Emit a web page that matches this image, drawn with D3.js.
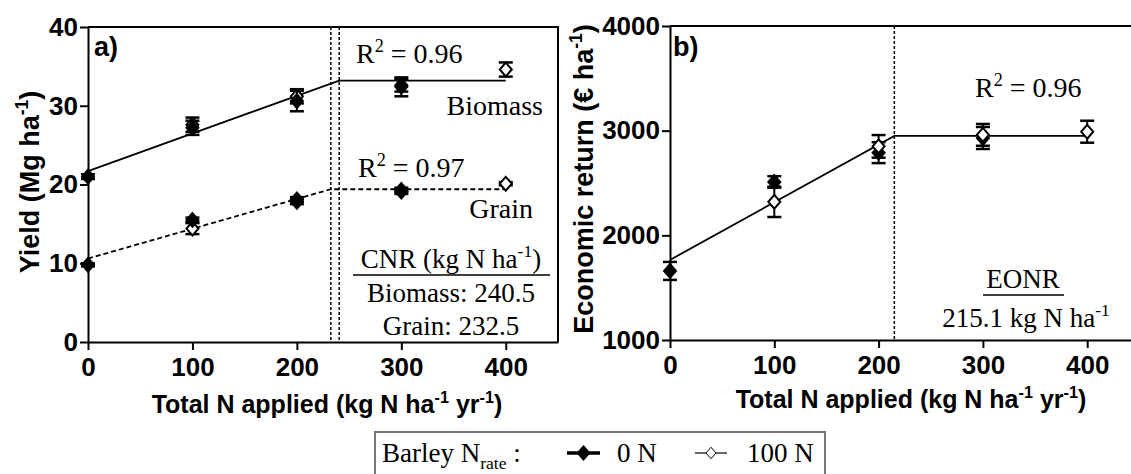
<!DOCTYPE html>
<html><head><meta charset="utf-8">
<script src="https://cdn.jsdelivr.net/npm/d3@7"></script>
<style>
body{margin:0;background:#fff;}
svg{display:block;}
.axis .tick text{font-family:"Liberation Sans",Arial,sans-serif;font-weight:bold;font-size:26px;fill:#000;}
.axis path,.axis line{stroke:#000;stroke-width:2;}
.serif{font-family:"Liberation Serif","Times New Roman",serif;fill:#000;}
.sans{font-family:"Liberation Sans",Arial,sans-serif;font-weight:bold;fill:#000;}
</style></head><body>
<script>
// Total N applied (kg N ha-1 yr-1) for the two barley N-rate treatments
const nRate0 = [0, 100, 200, 300];
const nRate100 = [100, 200, 300, 400];

// Panel a: yield (Mg ha-1)
const biomass0 = [21.0, 27.2, 30.6, 32.4];
const biomassErr0 = [0.3, 0.9, 1.3, 1.2];
const biomass100 = [27.6, 31.2, 32.6, 34.6];
const biomassErr100 = [0.9, 0.9, 0.8, 0.9];
const grain0 = [9.8, 15.5, 17.8, 19.1];
const grainErr0 = [0.2, 0.3, 0.3, 0.3];
const grain100 = [14.4, 18.1, 19.3, 20.1];
const grainErr100 = [0.7, 0.3, 0.3, 0.2];

// Linear-plateau fits: [N, value] vertices
const biomassFit = [[0, 21.7], [240.5, 33.2], [400, 33.2]];
const grainFit = [[0, 10.6], [232.5, 19.4], [400, 19.4]];
const cnrBiomass = 240.5, cnrGrain = 232.5;

// Panel b: economic return (EUR ha-1)
const return0 = [1660, 2510, 2790, 2930];
const returnErr0 = [86, 55, 100, 105];
const return100 = [2320, 2850, 2960, 2990];
const returnErr100 = [145, 108, 104, 105];
const returnFit = [[0, 1765], [215.1, 2950], [400, 2950]];
const eonr = 215.1;

// Tick labels
const xTicks = [0, 100, 200, 300, 400];
const yTicksA = [0, 10, 20, 30, 40];
const yTicksB = [1000, 2000, 3000, 4000];

const W = 1131, H = 474;
const svg = d3.select("body").append("svg").attr("width", W).attr("height", H);

const xa = d3.scaleLinear().domain([0, 450]).range([88, 558]);
const ya = d3.scaleLinear().domain([0, 40]).range([342, 27]);
const xb = d3.scaleLinear().domain([0, 442]).range([670, 1131]);
const yb = d3.scaleLinear().domain([1000, 4000]).range([340, 26]);

const diamond = s => `M0,${-s * 1.15}L${s},0L0,${s * 1.15}L${-s},0Z`;

// text with super/subscript parts
function rich(sel, parts, size) {
  let shift = 0;
  parts.forEach(p => {
    const ts = sel.append("tspan").text(p.t);
    let o = 0;
    if (p.sup) { o = -size * 0.4; ts.attr("font-size", size * 0.65); }
    else if (p.sub) { o = size * 0.25; ts.attr("font-size", size * 0.65); }
    if (o - shift !== 0) ts.attr("dy", o - shift);
    shift = o;
  });
  return sel;
}

function axes(x, y, yTicks) {
  svg.append("g").attr("class", "axis")
    .attr("transform", `translate(0,${y.range()[0]})`)
    .call(d3.axisBottom(x).tickValues(xTicks).tickFormat(d3.format("d")).tickSize(8).tickPadding(8).tickSizeOuter(0));
  svg.append("g").attr("class", "axis")
    .attr("transform", `translate(${x.range()[0]},0)`)
    .call(d3.axisLeft(y).tickValues(yTicks).tickFormat(d3.format("d")).tickSize(8).tickPadding(2).tickSizeOuter(0));
}

function points(x, y, ns, vals, errs, filled) {
  const g = svg.append("g");
  ns.forEach((n, i) => {
    const cx = x(n), v = vals[i], e = errs[i];
    const y1 = y(v + e), y2 = y(v - e);
    g.append("line").attr("x1", cx).attr("x2", cx).attr("y1", y1).attr("y2", y2)
      .attr("stroke", "#000").attr("stroke-width", 2);
    [y1, y2].forEach(yy => g.append("line").attr("x1", cx - 7).attr("x2", cx + 7)
      .attr("y1", yy).attr("y2", yy).attr("stroke", "#000").attr("stroke-width", 2.5));
    g.append("path").attr("d", diamond(6)).attr("transform", `translate(${cx},${y(v)})`)
      .attr("fill", filled ? "#000" : "#fff").attr("stroke", "#000").attr("stroke-width", 2);
  });
}

function fitLine(x, y, pts, dash) {
  svg.append("path").attr("d", d3.line().x(d => x(d[0])).y(d => y(d[1]))(pts))
    .attr("fill", "none").attr("stroke", "#000").attr("stroke-width", 1.8)
    .attr("stroke-dasharray", dash || null);
}

function vRule(x, y, n) {
  svg.append("line").attr("x1", x(n)).attr("x2", x(n))
    .attr("y1", y.range()[1]).attr("y2", y.range()[0])
    .attr("stroke", "#000").attr("stroke-width", 1.5).attr("stroke-dasharray", "3,2");
}

// ---------- panel a ----------
axes(xa, ya, yTicksA);
svg.append("path").attr("d", `M${xa.range()[0]},${ya(40)}H${xa.range()[1]}V${ya(0)}`)
  .attr("fill", "none").attr("stroke", "#000").attr("stroke-width", 2);
vRule(xa, ya, cnrGrain);
vRule(xa, ya, cnrBiomass);
fitLine(xa, ya, biomassFit);
fitLine(xa, ya, grainFit, "5,3");
points(xa, ya, nRate100, biomass100, biomassErr100, false);
points(xa, ya, nRate0, biomass0, biomassErr0, true);
points(xa, ya, nRate100, grain100, grainErr100, false);
points(xa, ya, nRate0, grain0, grainErr0, true);

svg.append("text").attr("class", "sans").attr("x", 94).attr("y", 56).attr("font-size", 27).text("a)");
rich(svg.append("text").attr("class", "serif").attr("x", 356).attr("y", 63).attr("font-size", 28),
  [{t: "R"}, {t: "2", sup: true}, {t: " = 0.96"}], 28);
svg.append("text").attr("class", "serif").attr("x", 543).attr("y", 115).attr("text-anchor", "end").attr("font-size", 28).text("Biomass");
rich(svg.append("text").attr("class", "serif").attr("x", 358).attr("y", 177).attr("font-size", 28),
  [{t: "R"}, {t: "2", sup: true}, {t: " = 0.97"}], 28);
svg.append("text").attr("class", "serif").attr("x", 533).attr("y", 218).attr("text-anchor", "end").attr("font-size", 28).text("Grain");
rich(svg.append("text").attr("class", "serif").attr("x", 451).attr("y", 268).attr("text-anchor", "middle").attr("font-size", 27),
  [{t: "CNR (kg N ha"}, {t: "-1", sup: true}, {t: ")"}], 27);
svg.append("line").attr("x1", 353).attr("x2", 550).attr("y1", 275).attr("y2", 275).attr("stroke", "#000").attr("stroke-width", 1.5);
svg.append("text").attr("class", "serif").attr("x", 451).attr("y", 302).attr("text-anchor", "middle").attr("font-size", 27).text("Biomass: " + cnrBiomass.toFixed(1));
svg.append("text").attr("class", "serif").attr("x", 451).attr("y", 335).attr("text-anchor", "middle").attr("font-size", 27).text("Grain: " + cnrGrain.toFixed(1));

rich(svg.append("text").attr("class", "sans").attr("font-size", 27).attr("text-anchor", "middle")
  .attr("transform", "translate(39,182) rotate(-90)"),
  [{t: "Yield (Mg ha"}, {t: "-1", sup: true}, {t: ")"}], 27);
rich(svg.append("text").attr("class", "sans").attr("font-size", 25).attr("text-anchor", "middle")
  .attr("x", 327).attr("y", 413),
  [{t: "Total N applied (kg N ha"}, {t: "-1", sup: true}, {t: " yr"}, {t: "-1", sup: true}, {t: ")"}], 25);

// ---------- panel b ----------
axes(xb, yb, yTicksB);
svg.append("line").attr("x1", xb.range()[0]).attr("x2", W).attr("y1", yb(4000)).attr("y2", yb(4000))
  .attr("stroke", "#000").attr("stroke-width", 2);
vRule(xb, yb, eonr);
fitLine(xb, yb, returnFit);
points(xb, yb, nRate0, return0, returnErr0, true);
points(xb, yb, nRate100, return100, returnErr100, false);

svg.append("text").attr("class", "sans").attr("x", 673).attr("y", 56).attr("font-size", 27).text("b)");
rich(svg.append("text").attr("class", "serif").attr("x", 975).attr("y", 97).attr("font-size", 28),
  [{t: "R"}, {t: "2", sup: true}, {t: " = 0.96"}], 28);
svg.append("text").attr("class", "serif").attr("x", 1023).attr("y", 288).attr("text-anchor", "middle").attr("font-size", 27).text("EONR");
svg.append("line").attr("x1", 983).attr("x2", 1064).attr("y1", 295).attr("y2", 295).attr("stroke", "#000").attr("stroke-width", 1.5);
rich(svg.append("text").attr("class", "serif").attr("x", 1026).attr("y", 327).attr("text-anchor", "middle").attr("font-size", 27),
  [{t: eonr.toFixed(1) + " kg N ha"}, {t: "-1", sup: true}], 27);

rich(svg.append("text").attr("class", "sans").attr("font-size", 27).attr("text-anchor", "middle")
  .attr("transform", "translate(593,179) rotate(-90)"),
  [{t: "Economic return (€ ha"}, {t: "-1", sup: true}, {t: ")"}], 27);
rich(svg.append("text").attr("class", "sans").attr("font-size", 25).attr("text-anchor", "middle")
  .attr("x", 911).attr("y", 408),
  [{t: "Total N applied (kg N ha"}, {t: "-1", sup: true}, {t: " yr"}, {t: "-1", sup: true}, {t: ")"}], 25);

// ---------- legend ----------
const lg = svg.append("g");
lg.append("rect").attr("x", 375).attr("y", 432).attr("width", 450).attr("height", 50)
  .attr("fill", "#fff").attr("stroke", "#777").attr("stroke-width", 2);
rich(lg.append("text").attr("class", "serif").attr("x", 382).attr("y", 462).attr("font-size", 27),
  [{t: "Barley N"}, {t: "rate", sub: true}, {t: " :"}], 27);
const legendItems = [
  {label: "0 N", x0: 567, x1: 600, tx: 617, filled: true},
  {label: "100 N", x0: 695, x1: 727, tx: 747, filled: false}
];
legendItems.forEach(d => {
  const cy = 453, cx = (d.x0 + d.x1) / 2;
  lg.append("line").attr("x1", d.x0).attr("x2", d.x1).attr("y1", cy).attr("y2", cy)
    .attr("stroke", "#000").attr("stroke-width", d.filled ? 3.5 : 1.2);
  lg.append("path").attr("d", diamond(d.filled ? 6 : 5)).attr("transform", `translate(${cx},${cy})`)
    .attr("fill", d.filled ? "#000" : "#fff").attr("stroke", "#000").attr("stroke-width", d.filled ? 1.5 : 1);
  lg.append("text").attr("class", "serif").attr("x", d.tx).attr("y", 462).attr("font-size", 27).text(d.label);
});
</script>
</body></html>
